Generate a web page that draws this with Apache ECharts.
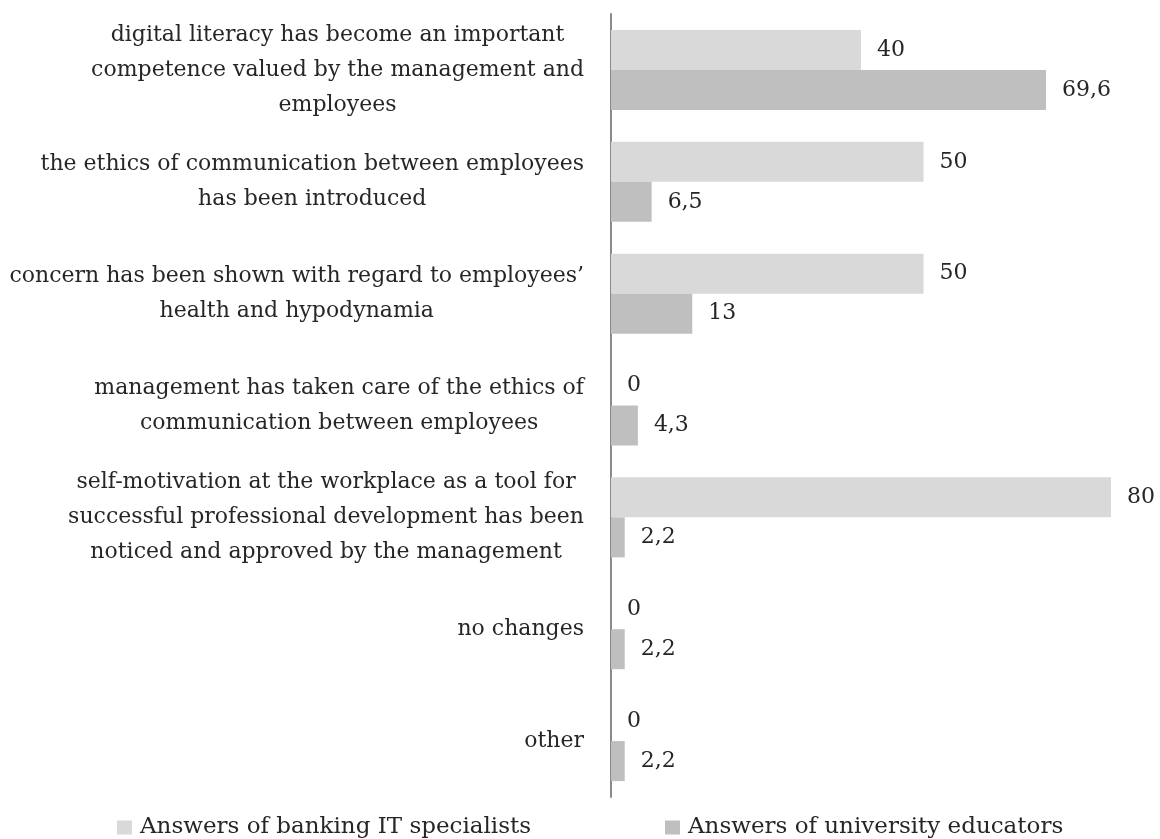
<!DOCTYPE html>
<html>
<head>
<meta charset="utf-8">
<script src="https://cdn.jsdelivr.net/npm/echarts@6/dist/echarts.min.js"></script>
<style>html,body{margin:0;padding:0;background:#fff}#c{width:1160px;height:839px}</style>
</head>
<body>
<div id="c"></div>
<script>
const categories = [
  "digital literacy has become an important\ncompetence valued by the management and\nemployees",
  "the ethics of communication between employees\nhas been introduced",
  "concern has been shown with regard to employees’\nhealth and hypodynamia",
  "management has taken care of the ethics of\ncommunication between employees",
  "self-motivation at the workplace as a tool for\nsuccessful professional development has been\nnoticed and approved by the management",
  "no changes",
  "other"
];
const seriesNames = ["Answers of banking IT specialists", "Answers of university educators"];
const itSpecialists = [40, 50, 50, 0, 80, 0, 0];
const educators = [69.6, 6.5, 13, 4.3, 2.2, 2.2, 2.2];
const axisMax = 80;

const FONT = "DejaVu Serif";
const TXT = "#262626";
const chart = echarts.init(document.getElementById('c'));
const valueLabel = {
  show: true, position: 'right', distance: 16,
  color: TXT, fontFamily: FONT, fontSize: 22,
  formatter: p => String(p.value).replace('.', ',')
};
const legendText = { color: TXT, fontFamily: FONT, fontSize: 23, padding: [0, 0, 0, 3] };
chart.setOption({
  animation: false,
  textStyle: { fontFamily: FONT },
  grid: { left: 611, right: 49, top: 14, bottom: 42, containLabel: false },
  legend: [
    { data: [seriesNames[0]], left: 112, top: 811, icon: 'rect', itemWidth: 15, itemHeight: 14, textStyle: legendText },
    { data: [seriesNames[1]], left: 660, top: 811, icon: 'rect', itemWidth: 15, itemHeight: 14, textStyle: legendText }
  ],
  xAxis: { type: 'value', min: 0, max: axisMax, show: false },
  yAxis: {
    type: 'category', data: categories, inverse: true,
    axisLine: { show: true, lineStyle: { color: '#898989', width: 2 } },
    axisTick: { show: false },
    axisLabel: {
      margin: 27, align: 'right',
      formatter: v => v.split('\n').map(l => '{c|' + l + '}').join('\n'),
      rich: { c: { align: 'center', color: TXT, fontFamily: FONT, fontSize: 22, lineHeight: 35 } }
    }
  },
  series: [
    { name: seriesNames[0], type: 'bar', data: itSpecialists, barWidth: 40, barGap: '0%',
      itemStyle: { color: '#d9d9d9' }, label: valueLabel },
    { name: seriesNames[1], type: 'bar', data: educators, barWidth: 40, barGap: '0%',
      itemStyle: { color: '#bfbfbf' }, label: valueLabel }
  ]
});
</script>
</body>
</html>
